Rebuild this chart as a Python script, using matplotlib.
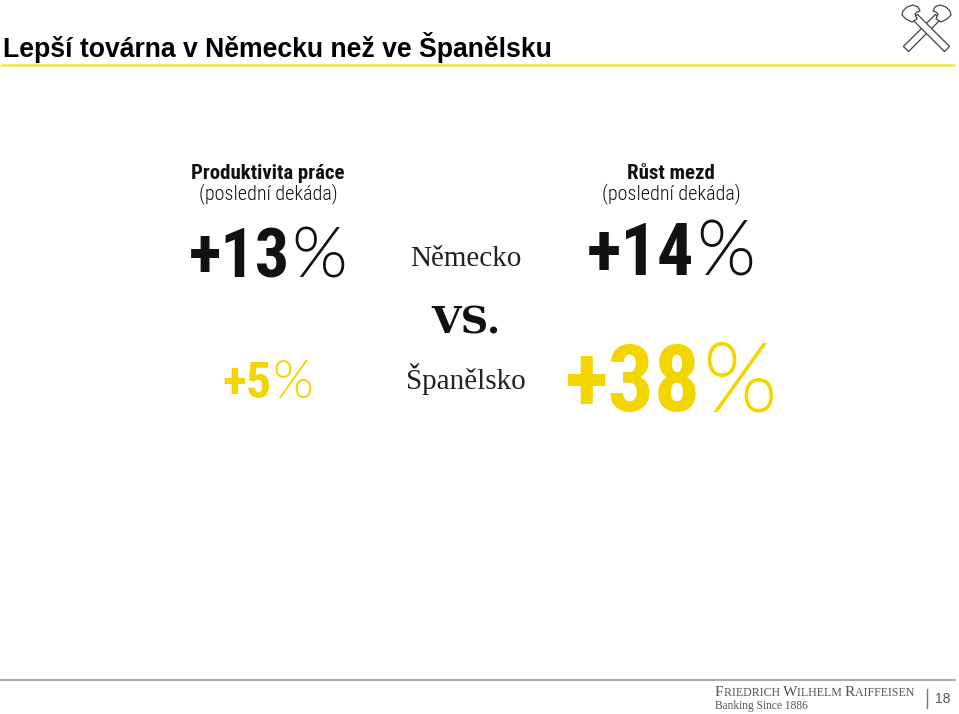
import numpy as np
import matplotlib
matplotlib.use("Agg")
import matplotlib.pyplot as plt
from matplotlib.patches import Polygon

# -----------------------
# Data
# -----------------------
title = "Lepší továrna v Německu než ve Španělsku"
metrics = ["Produktivita práce", "Růst mezd"]
metric_note = "(poslední dekáda)"
countries = ["Německo", "Španělsko"]
germany = [13, 14]
spain = [5, 38]
page_no = "18"

# -----------------------
# Style
# -----------------------
BLACK = "#111111"
YELLOW = "#f3d500"
W, H = 959, 714
COND = "Roboto Condensed"
THIN = "Lato"
SERIF = "Liberation Serif"

fig = plt.figure(figsize=(W / 100, H / 100), dpi=100)
ax = fig.add_axes([0, 0, 1, 1])
ax.set_xlim(0, W)
ax.set_ylim(H, 0)
ax.axis("off")
renderer = fig.canvas.get_renderer()


def pieces(parts, cx, y, align="center", gap=0):
    # draw strings one after another on baseline y
    objs = [ax.text(0, y, s, va="baseline", ha="left", **kw) for s, kw in parts]
    widths = [o.get_window_extent(renderer=renderer).width for o in objs]
    total = sum(widths) + gap * (len(objs) - 1)
    x = cx - total / 2 if align == "center" else cx
    for o, w in zip(objs, widths):
        o.set_x(x)
        x += w + gap
    return x - gap


def bar(p, q, hw):
    p, q = np.array(p, float), np.array(q, float)
    d = (q - p) / np.hypot(*(q - p))
    n = np.array([-d[1], d[0]]) * hw
    return [p + n, q + n, q - n, p - n]


# title and rules
ax.text(3, 57, title, fontsize=19.2, fontweight="bold", family="Liberation Sans",
        color="black", va="baseline")
ax.plot([0, 955], [64.5, 64.5], color="#eee84a", lw=1.8, solid_capstyle="butt")
ax.plot([0, 955], [680, 680], color="#9a9a9a", lw=1.2)

# raiffeisen gable logo
edge = dict(facecolor="white", edgecolor="#444444", lw=0.9, joinstyle="miter")
ax.add_patch(Polygon(bar((906, 49), (938, 17), 3.6), **edge))
ax.add_patch(Polygon(bar((947, 49), (915, 17), 3.6), **edge))
ax.add_patch(Polygon([(912, 22), (906, 19), (902, 15), (903, 11), (907, 7), (913, 5),
                      (918, 7), (920, 11), (917, 12), (915, 14), (917, 19)], **edge))
ax.add_patch(Polygon([(941, 22), (947, 19), (951, 15), (950, 11), (946, 7), (940, 5),
                      (935, 7), (933, 11), (936, 12), (938, 14), (936, 19)], **edge))

# column headers
col_x = [268, 671]
for cx, m in zip(col_x, metrics):
    ax.text(cx, 179, m, ha="center", va="baseline", fontsize=15, fontweight="bold",
            family=COND, color=BLACK)
    ax.text(cx, 199, metric_note, ha="center", va="baseline", fontsize=14.5,
            fontweight=300, family=COND, color=BLACK)

# big numbers
rows = [(germany, BLACK, [277, 275], [49, 52]),
        (spain, YELLOW, [398, 411], [36, 66])]
for vals, col, ys, sizes in rows:
    for cx, v, y, s in zip(col_x, vals, ys, sizes):
        pieces([(f"+{v}", dict(fontsize=s, fontweight="bold", family=COND, color=col)),
                ("%", dict(fontsize=s * 1.05, fontweight=300, family=THIN, color=col))],
               cx, y, gap=s * 0.03)

# middle labels
ax.text(466, 266, countries[0], ha="center", va="baseline", fontsize=21,
        family=SERIF, color="#222222")
ax.text(466, 334, "VS.", ha="center", va="baseline", fontsize=27.5, fontweight="bold",
        family="DejaVu Serif", color=BLACK)
ax.text(466, 389, countries[1], ha="center", va="baseline", fontsize=21,
        family=SERIF, color="#222222")

# footer
sc = dict(family=SERIF, color="#555555")
x = 715
for word in ["Friedrich", "Wilhelm", "Raiffeisen"]:
    x = pieces([(word[0], dict(fontsize=11, **sc)),
                (word[1:].upper() + " ", dict(fontsize=8.6, **sc))], x, 696, align="left")
ax.text(715, 709, "Banking Since 1886", fontsize=8.3, va="baseline", **sc)
ax.plot([927, 927], [689, 708], color="#777777", lw=1)
ax.text(935, 703, page_no, fontsize=10, family="Liberation Sans", color="#555555",
        va="baseline")

fig.savefig("out.png", dpi=100)
